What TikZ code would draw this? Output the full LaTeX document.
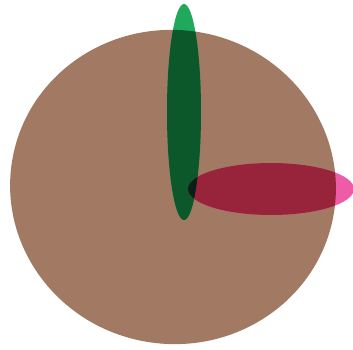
\documentclass[tikz,border=0pt]{standalone}
\usetikzlibrary{positioning}
\definecolor{koerper}{RGB}{162,121,99}
\definecolor{gruenhell}{RGB}{32,168,92}
\definecolor{gruendunkel}{RGB}{12,88,42}
\definecolor{rosa}{RGB}{238,92,168}
\definecolor{karmin}{RGB}{152,36,60}
\definecolor{schnitt}{RGB}{10,32,22}

\begin{document}
\begin{tikzpicture}[
x=1pt,
y=-1pt,
rumpf/.style={
    x radius=163,
    y radius=157,
    rotate=-8
},
stab/.style={
    x radius=17,
    y radius=108
},
balken/.style={
    x radius=83,
    y radius=26
}
]
\useasboundingbox (0,0) rectangle (353,350);

% Koerper
\fill[koerper] (173,187) ellipse [rumpf];

% Stab und Balken ausserhalb
\fill[gruenhell] (184,112) ellipse [stab];
\fill[rosa] (271,189) ellipse [balken];

% Teile innerhalb des Koerpers
\begin{scope}
\clip (173,187) ellipse [rumpf];
\fill[gruendunkel] (184,112) ellipse [stab];
\fill[karmin] (271,189) ellipse [balken];
\clip (184,112) ellipse [stab];
\fill[schnitt] (271,189) ellipse [balken];
\end{scope}

\end{tikzpicture}
\end{document}
